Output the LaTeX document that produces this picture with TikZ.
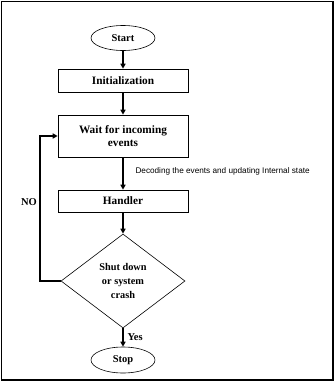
\documentclass[tikz,border=0pt]{standalone}
\usepackage{fontspec}
\setmainfont{Liberation Serif}
\newfontfamily\arialfont{Liberation Sans}
\usetikzlibrary{arrows.meta,shapes.geometric}

\begin{document}
\begin{tikzpicture}[
			x=1pt, y=-1pt,
			blocco/.style={draw, line width=0.6pt, minimum width=130pt, inner sep=1pt, align=center, font=\bfseries\fontsize{11.3}{13}\selectfont},
			terminale/.style={draw, ellipse, line width=0.6pt, minimum width=64pt, minimum height=25pt, inner sep=0pt, font=\bfseries\fontsize{10.5}{12}\selectfont},
			scelta/.style={draw, diamond, line width=0.6pt, minimum width=124pt, minimum height=94pt, inner sep=0pt, align=center, font=\bfseries\fontsize{10.3}{14}\selectfont},
			freccia/.style={-{Triangle[length=5pt,width=5pt]}, line width=1.7pt, black},
			lab/.style={font=\bfseries\fontsize{10.5}{12}\selectfont},
			labs/.style={font=\arialfont\fontsize{8.2}{9}\selectfont},
			]
			
			% cornice esterna
			\useasboundingbox (0,0) rectangle (336,383);
			\draw[line width=1.2pt] (1.5,1.5) rectangle (333,380);
			
			%%=== blocchi del diagramma ===
			\node[terminale] (start) at (123,38) {Start};
			\node[blocco, minimum height=23pt] (init) at (123,80.5) {Initialization};
			\node[blocco, minimum height=42pt] (wait) at (123,136) {Wait for incoming\\events};
			\node[blocco, minimum height=22pt] (handler) at (123,201) {Handler};
			\node[scelta] (decide) at (123,281) {Shut down\\or system\\crash};
			\node[terminale, minimum height=26pt] (stop) at (123,360) {Stop};
			
			%%=== collegamenti ===
			\draw[freccia] (start) -- (init);
			\draw[freccia] (init) -- (wait);
			\draw[freccia] (wait) -- (handler);
			\node[labs, anchor=west] (decoding) at (132,171) {Decoding the events and updating Internal state};
			\draw[freccia] (handler) -- (decide);
			\draw[freccia] (decide) -- (stop);
			\node[lab, anchor=west] (yes) at (124,337) {Yes};
			
			% ritorno NO verso l'attesa
			\coordinate (ritorno) at (40,281);
			\draw[freccia] (decide.west) -- (ritorno) |- (wait.west);
			\node[lab] (no) at (29,202) {NO};
			
		\end{tikzpicture}
\end{document}
